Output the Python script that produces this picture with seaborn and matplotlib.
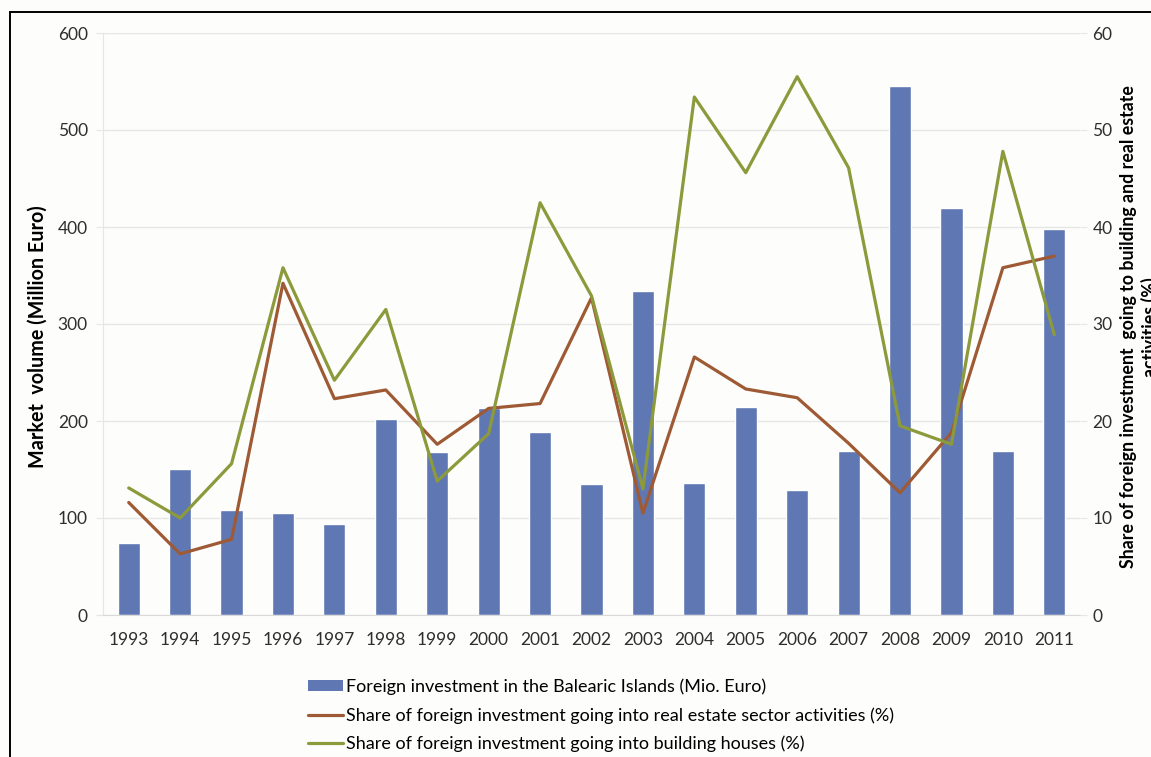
import matplotlib
matplotlib.use("Agg")
import matplotlib.pyplot as plt
from matplotlib.patches import Patch, Rectangle
from matplotlib.lines import Line2D
from matplotlib.ticker import FixedLocator
import seaborn as sns
import pandas as pd
import numpy as np

# data
years = ['1993', '1994', '1995', '1996', '1997', '1998', '1999', '2000', '2001', '2002',
         '2003', '2004', '2005', '2006', '2007', '2008', '2009', '2010', '2011']
investment = [74, 151, 108, 105, 94, 202, 168, 213, 189, 135,
              334, 136, 214, 129, 169, 545, 420, 169, 398]
real_estate_share = [11.6, 6.3, 7.8, 34.2, 22.3, 23.2, 17.6, 21.3, 21.8, 32.7,
                     10.5, 26.6, 23.3, 22.4, 17.7, 12.6, 18.8, 35.8, 37.0]
building_share = [13.1, 10.0, 15.6, 35.8, 24.2, 31.5, 13.8, 18.7, 42.5, 32.9,
                  13.0, 53.4, 45.6, 55.5, 46.1, 19.5, 17.6, 47.8, 28.9]

bar_label = 'Foreign investment in the Balearic Islands (Mio. Euro)'
re_label = 'Share of foreign investment going into real estate sector activities (%)'
bh_label = 'Share of foreign investment going into building houses (%)'

bar_color = '#5f78b4'
re_color = '#9e5a34'
bh_color = '#8c9a3c'
grid_color = '#e6e6e6'
text_color = '#2e2e2e'

df = pd.DataFrame({'Year': years, 'Investment': investment,
                   'RealEstate': real_estate_share, 'Building': building_share})
df['pos'] = np.arange(len(df))

sns.set_style("white")
plt.rcParams['font.family'] = ['Lato', 'DejaVu Sans']

fig = plt.figure(figsize=(11.51, 7.57), dpi=100, facecolor='#fdfdfb')
ax = fig.add_axes([103 / 1151, 1 - 615 / 757, 977 / 1151, 582 / 757])
ax.set_facecolor('#fdfdfb')

sns.barplot(data=df, x='Year', y='Investment', color=bar_color, width=0.43,
            saturation=1, ax=ax, zorder=2)
ax.set_ylim(0, 600)
ax.set_yticks(range(0, 601, 100))
ax.yaxis.grid(True, color=grid_color, lw=1, zorder=0)
ax.set_axisbelow(True)
ax.set_xlabel('')
ax.set_ylabel('Market  volume (Million Euro)', fontsize=14.2, fontweight='bold', color='black')
ax.yaxis.set_label_coords(-0.0563, 0.479)

ax2 = ax.twinx()
sns.lineplot(data=df, x='pos', y='RealEstate', color=re_color, lw=2.3, ax=ax2)
sns.lineplot(data=df, x='pos', y='Building', color=bh_color, lw=2.3, ax=ax2)
ax2.set_ylim(0, 60)
ax2.set_yticks(range(0, 61, 10))
ax2.set_xlim(-0.5, len(years) - 0.5)
ax2.set_ylabel('Share of foreign investment  going to building and real estate\nactivities (%)',
               fontsize=12.8, fontweight='bold', color='black', linespacing=1.25)
ax2.yaxis.set_label_coords(1.041, 0.495)

for a in (ax, ax2):
    for s in a.spines.values():
        s.set_visible(False)
ax.spines['left'].set_visible(True)
ax.spines['left'].set_color(grid_color)
ax.spines['bottom'].set_visible(True)
ax.spines['bottom'].set_color('#d9d9d9')

ax.tick_params(axis='y', length=5, color=grid_color, labelsize=12.5, labelcolor=text_color, pad=6)
ax2.tick_params(axis='y', length=5, color=grid_color, labelsize=12.5, labelcolor=text_color, pad=4)
ax.tick_params(axis='x', which='major', length=0, labelsize=12.5, labelcolor=text_color, pad=12)
ax.xaxis.set_minor_locator(FixedLocator(np.arange(-0.5, len(years), 1.0)))
ax.tick_params(axis='x', which='minor', length=5, color='#d9d9d9')

handles = [Patch(facecolor=bar_color, edgecolor='none'),
           Line2D([], [], color=re_color, lw=2.3),
           Line2D([], [], color=bh_color, lw=2.3)]
fig.legend(handles, [bar_label, re_label, bh_label], loc='upper left',
           bbox_to_anchor=(292 / 1151, 1 - 662 / 757), frameon=False, fontsize=13,
           handlelength=1.95, handleheight=0.6, handletextpad=0.15, labelspacing=0.68,
           labelcolor='black')

fig.patches.append(Rectangle((10 / 1151, -0.05), 1.0, 1.05 - 12 / 757,
                             transform=fig.transFigure, fill=False, ec='black', lw=1.4))

fig.savefig('out.png', dpi=100, facecolor=fig.get_facecolor())
